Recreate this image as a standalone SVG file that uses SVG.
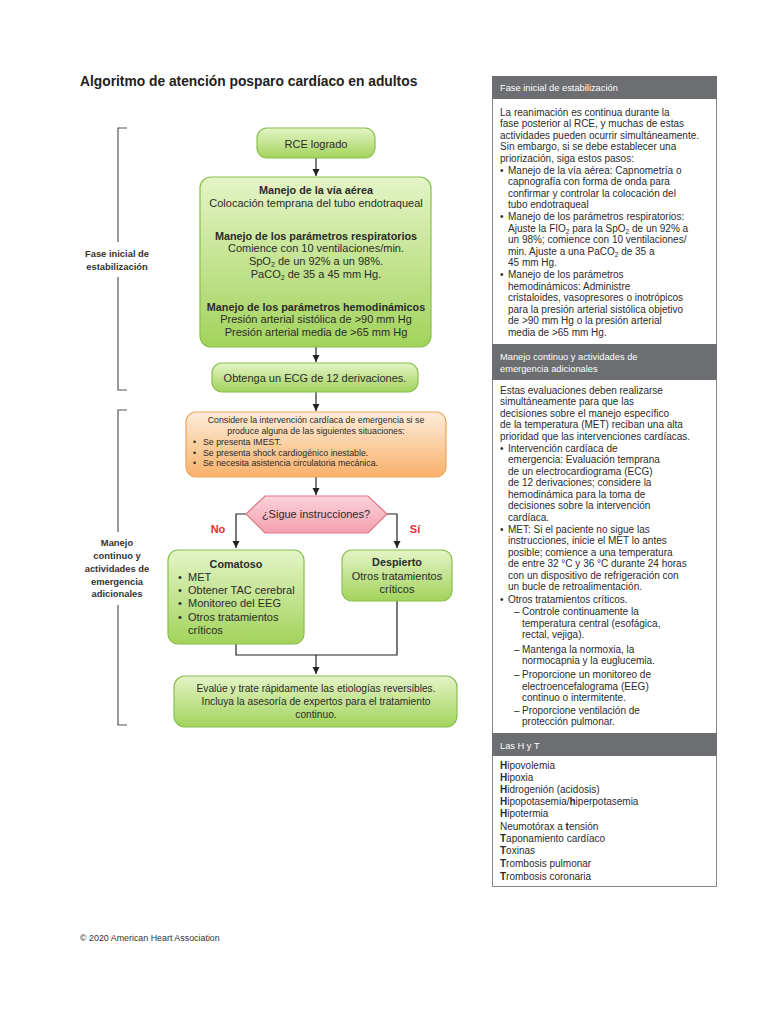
<svg xmlns="http://www.w3.org/2000/svg" width="768" height="1024" viewBox="0 0 768 1024">
<defs>
<linearGradient id="gGreen" x1="0" y1="0" x2="0" y2="1">
<stop offset="0" stop-color="#e4f4c6"/>
<stop offset="1" stop-color="#a2d35c"/>
</linearGradient>
<linearGradient id="gOrange" x1="0" y1="0" x2="0" y2="1">
<stop offset="0" stop-color="#fdecd9"/>
<stop offset="1" stop-color="#f8b16b"/>
</linearGradient>
<linearGradient id="gPink" x1="0" y1="0" x2="0" y2="1">
<stop offset="0" stop-color="#fbd2d9"/>
<stop offset="1" stop-color="#f3a0b0"/>
</linearGradient>
<marker id="arr" markerWidth="8" markerHeight="8" refX="7" refY="4" orient="auto" markerUnits="userSpaceOnUse">
<path d="M0,0.5 L7,4 L0,7.5 z" fill="#222"/>
</marker>
</defs>
<style>
text{font-family:"Liberation Sans",Arial,sans-serif;fill:#2b2b2b}
.title{font-size:13.8px;font-weight:bold;fill:#222}
.side{font-size:9.4px;font-weight:bold;fill:#333;text-anchor:middle}
.gbox{fill:url(#gGreen);stroke:#88c04c;stroke-width:1.2}
.obox{fill:url(#gOrange);stroke:#f1a45c;stroke-width:1.2}
.pbox{fill:url(#gPink);stroke:#e27487;stroke-width:1.2}
.c{text-anchor:middle}
.f11{font-size:11px}
.f11b{font-size:10.8px;font-weight:bold}
.f9{font-size:8.8px}
.f10{font-size:10.2px}
.red{font-size:11px;font-weight:bold;fill:#e0303a;text-anchor:middle}
.ln{fill:none;stroke:#222;stroke-width:1.2}
.br{fill:none;stroke:#555;stroke-width:1.2}
.hdr{fill:#6d6e71}
.ht{font-size:9.3px;fill:#fff}
.pt{font-size:10px;fill:#2b2b2b}
.b{font-weight:bold}
.foot{font-size:8.9px;fill:#333}
</style>

<text class="title" x="80" y="86">Algoritmo de atención posparo cardíaco en adultos</text>

<g id="bracket-fase-inicial">
<path class="br" d="M127,128 H118 V242 M118,277 V390 H127"/>
<text class="side" x="117" y="257">Fase inicial de</text>
<text class="side" x="117" y="270">estabilización</text>
</g>
<g id="bracket-manejo-continuo">
<path class="br" d="M127,410 H118 V532 M118,605 V725 H127"/>
<text class="side" x="117" y="546">Manejo</text>
<text class="side" x="117" y="559">continuo y</text>
<text class="side" x="117" y="572">actividades de</text>
<text class="side" x="117" y="585">emergencia</text>
<text class="side" x="117" y="597">adicionales</text>
</g>

<g id="connectors">
<line class="ln" x1="316" y1="158" x2="316" y2="176" marker-end="url(#arr)"/>
<line class="ln" x1="316" y1="211" x2="316" y2="229" marker-end="url(#arr)"/>
<line class="ln" x1="316" y1="281" x2="316" y2="299" marker-end="url(#arr)"/>
<line class="ln" x1="316" y1="347" x2="316" y2="362" marker-end="url(#arr)"/>
<line class="ln" x1="316" y1="392" x2="316" y2="411" marker-end="url(#arr)"/>
<line class="ln" x1="316" y1="477" x2="316" y2="495" marker-end="url(#arr)"/>
<path class="ln" d="M246,514 H236 V548" marker-end="url(#arr)"/>
<path class="ln" d="M387,514 H397 V548" marker-end="url(#arr)"/>
<path class="ln" d="M236,644 V655 H397 V601"/>
<line class="ln" x1="316" y1="655" x2="316" y2="674" marker-end="url(#arr)"/>
<text class="red" x="218" y="533">No</text>
<text class="red" x="415" y="533">Sí</text>
</g>

<g id="rce">
<rect class="gbox" x="257" y="128" width="118" height="30" rx="10"/>
<text class="c f11" x="316" y="148">RCE logrado</text>
</g>

<g id="manejo-inicial">
<rect class="gbox" x="200" y="177" width="231" height="170" rx="11"/>
<text class="c f11b" x="316" y="194">Manejo de la vía aérea</text>
<text class="c f11" x="316" y="207">Colocación temprana del tubo endotraqueal</text>
<text class="c f11b" x="316" y="240">Manejo de los parámetros respiratorios</text>
<text class="c f11" x="316" y="252">Comience con 10 ventilaciones/min.</text>
<text class="c f11" x="316" y="265">SpO<tspan font-size="7" dy="2">2</tspan><tspan dy="-2"> de un 92% a un 98%.</tspan></text>
<text class="c f11" x="316" y="278">PaCO<tspan font-size="7" dy="2">2</tspan><tspan dy="-2"> de 35 a 45 mm Hg.</tspan></text>
<text class="c f11b" x="316" y="311">Manejo de los parámetros hemodinámicos</text>
<text class="c f11" x="316" y="323">Presión arterial sistólica de &gt;90 mm Hg</text>
<text class="c f11" x="316" y="336">Presión arterial media de &gt;65 mm Hg</text>
</g>

<g id="ecg">
<rect class="gbox" x="212" y="363" width="206" height="29" rx="10"/>
<text class="c f11" x="315" y="382">Obtenga un ECG de 12 derivaciones.</text>
</g>

<g id="intervencion">
<rect class="obox" x="186" y="412" width="260" height="65" rx="10"/>
<text class="c f9" x="316" y="423">Considere la intervención cardíaca de emergencia si se</text>
<text class="c f9" x="316" y="434">produce alguna de las siguientes situaciones:</text>
<text class="f9" x="193" y="445">•</text><text class="f9" x="203" y="445">Se presenta IMEST.</text>
<text class="f9" x="193" y="456">•</text><text class="f9" x="203" y="456">Se presenta shock cardiogénico inestable.</text>
<text class="f9" x="193" y="466">•</text><text class="f9" x="203" y="466">Se necesita asistencia circulatoria mecánica.</text>
</g>

<g id="decision">
<polygon class="pbox" points="246,514 265,496 368,496 387,514 368,533 265,533"/>
<text class="c f11" x="316" y="518">¿Sigue instrucciones?</text>
</g>

<g id="comatoso">
<rect class="gbox" x="168" y="550" width="136" height="94" rx="10"/>
<text class="c f11b" x="236" y="568">Comatoso</text>
<text class="f11" x="178" y="581">•</text><text class="f11" x="188" y="581">MET</text>
<text class="f11" x="178" y="594">•</text><text class="f11" x="188" y="594">Obtener TAC cerebral</text>
<text class="f11" x="178" y="607">•</text><text class="f11" x="188" y="607">Monitoreo del EEG</text>
<text class="f11" x="178" y="621">•</text><text class="f11" x="188" y="621">Otros tratamientos</text>
<text class="f11" x="188" y="634">críticos</text>
</g>

<g id="despierto">
<rect class="gbox" x="342" y="550" width="110" height="51" rx="10"/>
<text class="c f11b" x="397" y="566">Despierto</text>
<text class="c f11" x="397" y="580">Otros tratamientos</text>
<text class="c f11" x="397" y="593">críticos</text>
</g>

<g id="evalue">
<rect class="gbox" x="174" y="676" width="283" height="51" rx="11"/>
<text class="c f10" x="316" y="692">Evalúe y trate rápidamente las etiologías reversibles.</text>
<text class="c f10" x="316" y="705">Incluya la asesoría de expertos para el tratamiento</text>
<text class="c f10" x="316" y="718">continuo.</text>
</g>

<g id="panel">
<rect x="492.5" y="76.5" width="224" height="810" fill="#fff" stroke="#8a8a8a" stroke-width="1"/>
<rect class="hdr" x="492" y="76" width="225" height="23"/>
<text class="ht" x="500" y="91">Fase inicial de estabilización</text>
<text class="pt" x="500" y="116">La reanimación es continua durante la</text>
<text class="pt" x="500" y="127">fase posterior al RCE, y muchas de estas</text>
<text class="pt" x="500" y="139">actividades pueden ocurrir simultáneamente.</text>
<text class="pt" x="500" y="150">Sin embargo, si se debe establecer una</text>
<text class="pt" x="500" y="162">priorización, siga estos pasos:</text>
<text class="pt" x="500" y="174">•</text><text class="pt" x="508" y="174">Manejo de la vía aérea: Capnometría o</text>
<text class="pt" x="508" y="185">capnografía con forma de onda para</text>
<text class="pt" x="508" y="197">confirmar y controlar la colocación del</text>
<text class="pt" x="508" y="208">tubo endotraqueal</text>
<text class="pt" x="500" y="220">•</text><text class="pt" x="508" y="220">Manejo de los parámetros respiratorios:</text>
<text class="pt" x="508" y="232">Ajuste la FIO<tspan font-size="6.5" dy="2">2</tspan><tspan dy="-2"> para la SpO</tspan><tspan font-size="6.5" dy="2">2</tspan><tspan dy="-2"> de un 92% a</tspan></text>
<text class="pt" x="508" y="243">un 98%; comience con 10 ventilaciones/</text>
<text class="pt" x="508" y="255">min. Ajuste a una PaCO<tspan font-size="6.5" dy="2">2</tspan><tspan dy="-2"> de 35 a</tspan></text>
<text class="pt" x="508" y="266">45 mm Hg.</text>
<text class="pt" x="500" y="278">•</text><text class="pt" x="508" y="278">Manejo de los parámetros</text>
<text class="pt" x="508" y="290">hemodinámicos: Administre</text>
<text class="pt" x="508" y="301">cristaloides, vasopresores o inotrópicos</text>
<text class="pt" x="508" y="313">para la presión arterial sistólica objetivo</text>
<text class="pt" x="508" y="324">de &gt;90 mm Hg o la presión arterial</text>
<text class="pt" x="508" y="336">media de &gt;65 mm Hg.</text>
<rect class="hdr" x="492" y="344" width="225" height="36"/>
<text class="ht" x="500" y="360">Manejo continuo y actividades de</text>
<text class="ht" x="500" y="372">emergencia adicionales</text>
<text class="pt" x="500" y="394">Estas evaluaciones deben realizarse</text>
<text class="pt" x="500" y="405">simultáneamente para que las</text>
<text class="pt" x="500" y="417">decisiones sobre el manejo específico</text>
<text class="pt" x="500" y="428">de la temperatura (MET) reciban una alta</text>
<text class="pt" x="500" y="440">prioridad que las intervenciones cardíacas.</text>
<text class="pt" x="500" y="452">•</text><text class="pt" x="508" y="452">Intervención cardíaca de</text>
<text class="pt" x="508" y="463">emergencia: Evaluación temprana</text>
<text class="pt" x="508" y="475">de un electrocardiograma (ECG)</text>
<text class="pt" x="508" y="486">de 12 derivaciones; considere la</text>
<text class="pt" x="508" y="498">hemodinámica para la toma de</text>
<text class="pt" x="508" y="509">decisiones sobre la intervención</text>
<text class="pt" x="508" y="521">cardíaca.</text>
<text class="pt" x="500" y="533">•</text><text class="pt" x="508" y="533">MET: Si el paciente no sigue las</text>
<text class="pt" x="508" y="544">instrucciones, inicie el MET lo antes</text>
<text class="pt" x="508" y="556">posible; comience a una temperatura</text>
<text class="pt" x="508" y="567">de entre 32 °C y 36 °C durante 24 horas</text>
<text class="pt" x="508" y="579">con un dispositivo de refrigeración con</text>
<text class="pt" x="508" y="590">un bucle de retroalimentación.</text>
<text class="pt" x="500" y="603">•</text><text class="pt" x="508" y="603">Otros tratamientos críticos.</text>
<text class="pt" x="514" y="615">–</text><text class="pt" x="522" y="615">Controle continuamente la</text>
<text class="pt" x="522" y="627">temperatura central (esofágica,</text>
<text class="pt" x="522" y="638">rectal, vejiga).</text>
<text class="pt" x="514" y="653">–</text><text class="pt" x="522" y="653">Mantenga la normoxia, la</text>
<text class="pt" x="522" y="664">normocapnia y la euglucemia.</text>
<text class="pt" x="514" y="678">–</text><text class="pt" x="522" y="678">Proporcione un monitoreo de</text>
<text class="pt" x="522" y="690">electroencefalograma (EEG)</text>
<text class="pt" x="522" y="701">continuo o intermitente.</text>
<text class="pt" x="514" y="714">–</text><text class="pt" x="522" y="714">Proporcione ventilación de</text>
<text class="pt" x="522" y="725">protección pulmonar.</text>
<rect class="hdr" x="492" y="733" width="225" height="23"/>
<text class="ht" x="500" y="749">Las H y T</text>
<text class="pt" x="500" y="769"><tspan class="b">H</tspan>ipovolemia</text>
<text class="pt" x="500" y="781"><tspan class="b">H</tspan>ipoxia</text>
<text class="pt" x="500" y="793"><tspan class="b">H</tspan>idrogenión (acidosis)</text>
<text class="pt" x="500" y="805"><tspan class="b">H</tspan>ipopotasemia/<tspan class="b">h</tspan>iperpotasemia</text>
<text class="pt" x="500" y="817"><tspan class="b">H</tspan>ipotermia</text>
<text class="pt" x="500" y="830">Neumotórax a <tspan class="b">t</tspan>ensión</text>
<text class="pt" x="500" y="842"><tspan class="b">T</tspan>aponamiento cardíaco</text>
<text class="pt" x="500" y="854"><tspan class="b">T</tspan>oxinas</text>
<text class="pt" x="500" y="867"><tspan class="b">T</tspan>rombosis pulmonar</text>
<text class="pt" x="500" y="880"><tspan class="b">T</tspan>rombosis coronaria</text>
</g>

<text class="foot" x="80" y="941">© 2020 American Heart Association</text>
</svg>
